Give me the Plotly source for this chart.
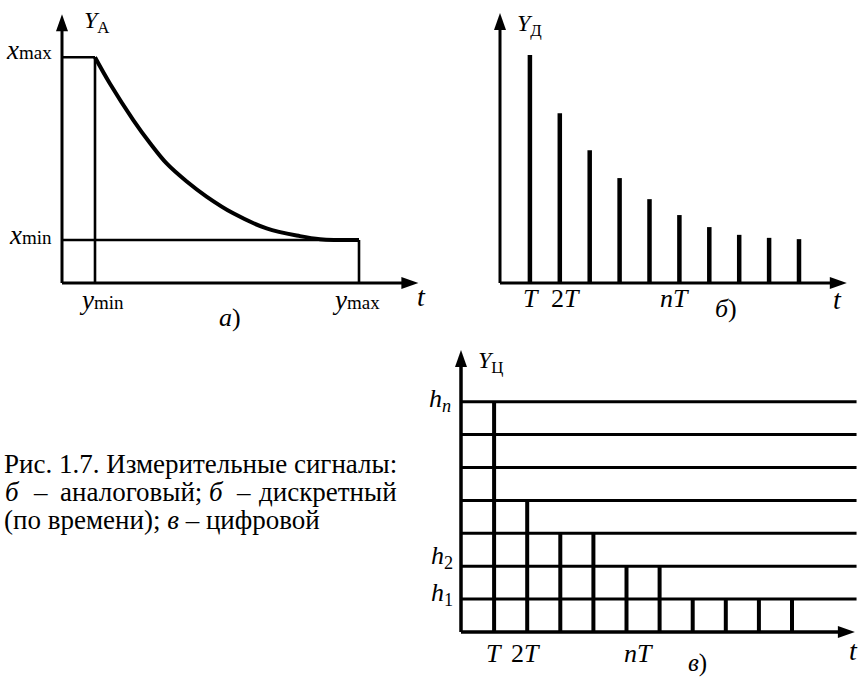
import plotly.graph_objects as go

W, H = 862, 679
FONT = "Liberation Serif"

# ---------------- data ----------------
# Panel а (analog signal)
A_T_MIN, A_T_MAX = 1.0, 9.0
A_X_MIN, A_X_MAX = 1.0, 5.25
A_CURVE_T = [1.0, 1.45, 2.16, 2.67, 3.17, 3.78, 4.38, 5.19, 6.20, 7.21, 7.82, 9.0]
A_CURVE_X = [5.25, 4.64, 3.79, 3.25, 2.78, 2.36, 2.01, 1.62, 1.27, 1.09, 1.02, 1.0]
A_T_AXIS_END = 10.8
A_Y_AXIS_END = 6.25

# Panel б (discrete in time)
B_N = [1, 2, 3, 4, 5, 6, 7, 8, 9, 10]
B_VALUES = [5.30, 3.95, 3.09, 2.44, 1.95, 1.58, 1.30, 1.12, 1.05, 1.02]
B_T_AXIS_END = 11.6
B_Y_AXIS_END = 6.28

# Panel в (digital)
C_N = [1, 2, 3, 4, 5, 6, 7, 8, 9, 10]
C_LEVELS = [7, 4, 3, 3, 2, 2, 1, 1, 1, 1]
C_GRID_LEVELS = [1, 2, 3, 4, 5, 6, 7]
C_GRID_END = 11.95
C_T_AXIS_END = 11.9
C_Y_AXIS_END = 8.57

# pixel calibration of each panel (origin and units in px)
PANELS = {
    "a": dict(ox=62, oy=283, ux=33.0, uy=43.0, xa="x", ya="y"),
    "b": dict(ox=500, oy=283, ux=29.9, uy=43.0, xa="x2", ya="y2"),
    "c": dict(ox=461, oy=632, ux=33.1, uy=32.9, xa="x3", ya="y3"),
}

fig = go.Figure()


def seg_trace(p, xs, ys, width):
    fig.add_trace(go.Scatter(x=xs, y=ys, mode="lines", xaxis=p["xa"], yaxis=p["ya"],
                             line=dict(color="black", width=width), hoverinfo="skip",
                             showlegend=False))


def segments(pairs):
    xs, ys = [], []
    for (x0, y0, x1, y1) in pairs:
        xs += [x0, x1, None]
        ys += [y0, y1, None]
    return xs, ys


shapes = []


def arrow_right(p, x, y):
    shapes.append(dict(type="path", xref=p["xa"], yref=p["ya"], xsizemode="pixel",
                       ysizemode="pixel", xanchor=x, yanchor=y,
                       path="M0,0 L-17,6 L-17,-6 Z", fillcolor="black",
                       line=dict(width=0)))


def arrow_up(p, x, y):
    shapes.append(dict(type="path", xref=p["xa"], yref=p["ya"], xsizemode="pixel",
                       ysizemode="pixel", xanchor=x, yanchor=y,
                       path="M0,0 L-6,-17 L6,-17 Z", fillcolor="black",
                       line=dict(width=0)))


annotations = []


def label(p, x, y, text, size=22, xanchor="center", yanchor="middle"):
    annotations.append(dict(x=x, y=y, xref=p["xa"], yref=p["ya"], text=text,
                            showarrow=False, xanchor=xanchor, yanchor=yanchor,
                            font=dict(family=FONT, size=size, color="black")))


def px_label(xpx, ypx, text, size=24, xanchor="left", yanchor="middle"):
    annotations.append(dict(x=xpx / W, y=1 - ypx / H, xref="paper", yref="paper",
                            text=text, showarrow=False, xanchor=xanchor,
                            yanchor=yanchor,
                            font=dict(family=FONT, size=size, color="black")))


# ---------------- panel а ----------------
pa = PANELS["a"]
xs, ys = segments([
    (0, 0, A_T_AXIS_END - 0.3, 0),
    (0, 0, 0, A_Y_AXIS_END - 0.3),
])
seg_trace(pa, xs, ys, 3.0)
xs, ys = segments([
    (0, A_X_MAX, A_T_MIN, A_X_MAX),
    (A_T_MIN, 0, A_T_MIN, A_X_MAX),
    (0, A_X_MIN, A_T_MAX, A_X_MIN),
    (A_T_MAX, 0, A_T_MAX, A_X_MIN),
])
seg_trace(pa, xs, ys, 2.6)
fig.add_trace(go.Scatter(x=A_CURVE_T, y=A_CURVE_X, mode="lines", xaxis="x", yaxis="y",
                         line=dict(color="black", width=4, shape="spline", smoothing=1.0),
                         hoverinfo="skip", showlegend=False))
arrow_right(pa, A_T_AXIS_END, 0)
arrow_up(pa, 0, A_Y_AXIS_END)

label(pa, 0.6, (283 - 22) / 43, "<i>Y</i><sub>А</sub>", 24, "left")
label(pa, -0.25, A_X_MAX + 0.18,
      "<i>x</i><span style='font-size:19px'>max</span>", 27, "right")
label(pa, -0.25, A_X_MIN + 0.12,
      "<i>x</i><span style='font-size:19px'>min</span>", 27, "right")
label(pa, A_T_MIN + 0.2, -0.4,
      "<i>y</i><span style='font-size:19px'>min</span>", 27, "center")
label(pa, A_T_MAX - 0.1, -0.4,
      "<i>y</i><span style='font-size:19px'>max</span>", 27, "center")
label(pa, A_T_AXIS_END + 0.1, -0.32, "<i>t</i>", 28)
label(pa, 5.1, -0.8, "<i>а</i>)", 26)

# ---------------- panel б ----------------
pb = PANELS["b"]
xs, ys = segments([
    (0, 0, B_T_AXIS_END - 0.3, 0),
    (0, 0, 0, B_Y_AXIS_END - 0.3),
])
seg_trace(pb, xs, ys, 3.0)
xs, ys = segments([(n, 0, n, v) for n, v in zip(B_N, B_VALUES)])
seg_trace(pb, xs, ys, 4.5)
arrow_right(pb, B_T_AXIS_END, 0)
arrow_up(pb, 0, B_Y_AXIS_END)

label(pb, 0.5, (283 - 25) / 43, "<i>Y</i><sub>Д</sub>", 24, "left")
label(pb, B_N[0] + 0.05, -0.35, "<i>T</i>", 26)
label(pb, B_N[1] + 0.2, -0.35, "2<i>T</i>", 26)
label(pb, B_N[5] - 0.15, -0.35, "<i>nT</i>", 26)
label(pb, B_T_AXIS_END - 0.3, -0.38, "<i>t</i>", 28)
label(pb, 7.55, -0.6, "<i>б</i>)", 26)

# ---------------- panel в ----------------
pc = PANELS["c"]
xs, ys = segments([(0, lv, C_GRID_END, lv) for lv in C_GRID_LEVELS])
seg_trace(pc, xs, ys, 3.0)
xs, ys = segments([(n, 0, n, lv) for n, lv in zip(C_N, C_LEVELS)])
seg_trace(pc, xs, ys, 4.0)
xs, ys = segments([
    (0, 0, C_T_AXIS_END - 0.3, 0),
    (0, 0, 0, C_Y_AXIS_END - 0.3),
])
seg_trace(pc, xs, ys, 3.5)
arrow_right(pc, C_T_AXIS_END, 0)
arrow_up(pc, 0, C_Y_AXIS_END)

label(pc, 0.45, (632 - 362) / 32.9, "<i>Y</i><sub>Ц</sub>", 24, "left")
label(pc, -0.24, C_GRID_LEVELS[6] + 0.05, "<i>h</i><sub><i>n</i></sub>", 26, "right")
label(pc, -0.18, C_GRID_LEVELS[1] + 0.27, "<i>h</i><sub>2</sub>", 26, "right")
label(pc, -0.18, C_GRID_LEVELS[0] + 0.17, "<i>h</i><sub>1</sub>", 26, "right")
label(pc, C_N[0], -0.65, "<i>T</i>", 26)
label(pc, C_N[1] - 0.05, -0.65, "2<i>T</i>", 26)
label(pc, C_N[5] - 0.65, -0.65, "<i>nT</i>", 26)
label(pc, C_T_AXIS_END - 0.05, -0.55, "<i>t</i>", 28)
label(pc, 7.15, -0.93, "<i>в</i>)", 25)

# ---------------- caption ----------------
CAP = 27
px_label(2, 464, "Рис. 1.7. Измерительные сигналы:", CAP)
px_label(3, 492, "<i>б</i>", CAP)
px_label(31, 492, "–", CAP)
px_label(58, 492, "аналоговый;", CAP)
px_label(207, 492, "<i>б</i>", CAP)
px_label(234, 492, "–", CAP)
px_label(399, 492, "дискретный", CAP, "right")
px_label(2, 520, "(по времени); <i>в</i> – цифровой", CAP)

layout_axes = {}
for key, p in PANELS.items():
    xname = "xaxis" if p["xa"] == "x" else "xaxis" + p["xa"][1:]
    yname = "yaxis" if p["ya"] == "y" else "yaxis" + p["ya"][1:]
    layout_axes[xname] = dict(domain=[0, 1], range=[-p["ox"] / p["ux"], (W - p["ox"]) / p["ux"]],
                              visible=False, fixedrange=True, anchor=p["ya"])
    layout_axes[yname] = dict(domain=[0, 1], range=[-(H - p["oy"]) / p["uy"], p["oy"] / p["uy"]],
                              visible=False, fixedrange=True, anchor=p["xa"])

fig.update_layout(width=W, height=H, margin=dict(l=0, r=0, t=0, b=0),
                  paper_bgcolor="white", plot_bgcolor="rgba(0,0,0,0)",
                  font=dict(family=FONT),
                  shapes=shapes, annotations=annotations, **layout_axes)

fig.write_html("out.html", post_script="document.body.style.margin='0';",
               config={"displayModeBar": False})
